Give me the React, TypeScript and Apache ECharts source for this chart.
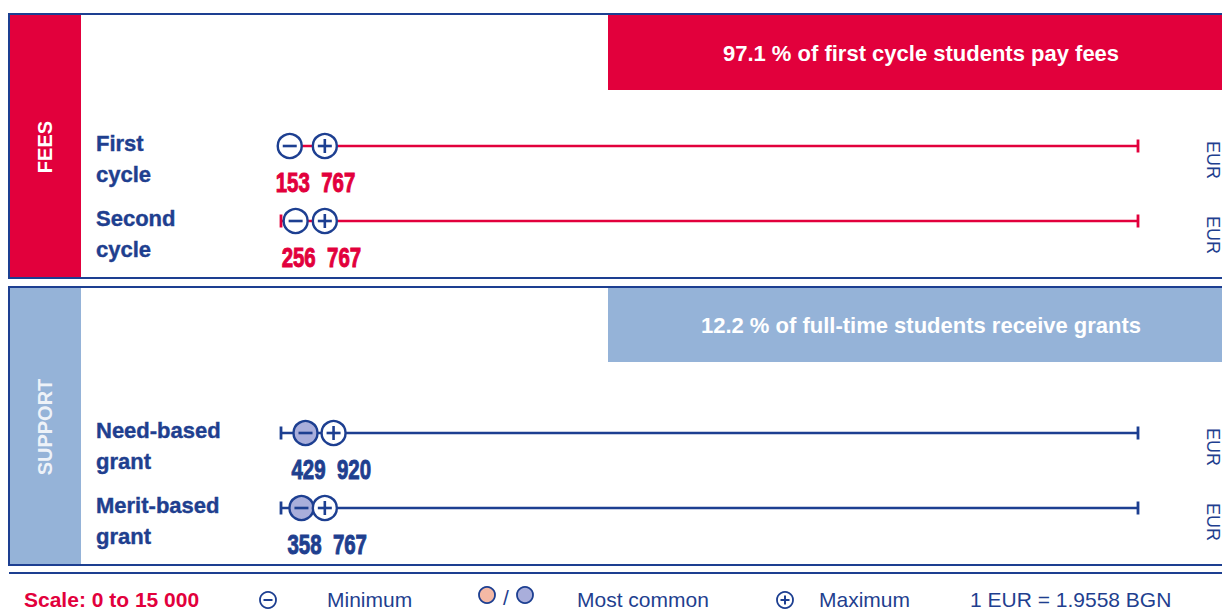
import React, { useEffect, useRef } from "react";
import * as echarts from "echarts";

// ---- data ----
const scaleMin = 0;
const scaleMax = 15000;
const feeCategories = ["First\ncycle", "Second\ncycle"];
const feeMin = [153, 256];
const feeMax = [767, 767];
const feeMostCommon: (number | null)[] = [null, null];
const supportCategories = ["Need-based\ngrant", "Merit-based\ngrant"];
const supportMin = [429, 358];
const supportMax = [920, 767];
const supportMostCommon: (number | null)[] = [429, 358];
const feeHeadline = "97.1 % of first cycle students pay fees";
const supportHeadline = "12.2 % of full-time students receive grants";
const feeTitle = "FEES";
const supportTitle = "SUPPORT";
const currencyUnit = "EUR";
const scaleNote = "Scale: 0 to 15 000";
const legendMin = "Minimum";
const legendCommon = "Most common";
const legendMax = "Maximum";
const exchangeNote = "1 EUR = 1.9558 BGN";

// ---- styles ----
const BLUE = "#1d3f91";
const TEXT_BLUE = "#1f3f8f";
const RED = "#e2003c";
const LIGHT = "#95b3d8";
const LAVENDER = "#a9aedb";
const PINK = "#f5b9a5";
const FONT = '"Liberation Sans", Arial, Helvetica, sans-serif';

function makeRender(categories: string[], lineColor: string, numColor: string) {
  return (params: any, api: any) => {
    const idx = api.value(0);
    const vMin = api.value(1);
    const vMax = api.value(2);
    const vMc = api.value(3);
    const cs = params.coordSys;
    const [x0, y] = api.coord([scaleMin, idx]);
    const [x1] = api.coord([scaleMax, idx]);
    const [xMin] = api.coord([vMin, idx]);
    const [xMax] = api.coord([vMax, idx]);
    const r = 12;
    const s = 7;
    const children: any[] = [
      { type: "line", shape: { x1: x0, y1: y, x2: x1, y2: y }, style: { stroke: lineColor, lineWidth: 2.4 } },
      { type: "line", shape: { x1: x0, y1: y - 6.5, x2: x0, y2: y + 6.5 }, style: { stroke: lineColor, lineWidth: 2.8 } },
      { type: "line", shape: { x1: x1, y1: y - 6.5, x2: x1, y2: y + 6.5 }, style: { stroke: lineColor, lineWidth: 2.8 } },
      {
        type: "circle",
        shape: { cx: xMin, cy: y, r },
        style: { fill: vMc === vMin ? LAVENDER : "#fff", stroke: BLUE, lineWidth: 2.4 },
      },
      { type: "line", shape: { x1: xMin - s, y1: y, x2: xMin + s, y2: y }, style: { stroke: BLUE, lineWidth: 2.6 } },
      {
        type: "circle",
        shape: { cx: xMax, cy: y, r },
        style: { fill: vMc === vMax ? LAVENDER : "#fff", stroke: BLUE, lineWidth: 2.4 },
      },
      { type: "line", shape: { x1: xMax - s, y1: y, x2: xMax + s, y2: y }, style: { stroke: BLUE, lineWidth: 2.6 } },
      { type: "line", shape: { x1: xMax, y1: y - s, x2: xMax, y2: y + s }, style: { stroke: BLUE, lineWidth: 2.6 } },
      {
        type: "text",
        x: cs.x - 185,
        y: y - 18.5,
        style: {
          text: categories[idx],
          fill: TEXT_BLUE,
          stroke: TEXT_BLUE,
          lineWidth: 0.4,
          fontSize: 22,
          fontWeight: "bold",
          fontFamily: FONT,
          lineHeight: 31,
          align: "left",
          verticalAlign: "top",
        },
      },
      {
        type: "text",
        x: xMin - 14,
        y: y + 36,
        scaleX: 0.73,
        style: {
          text: `${vMin}  ${vMax}`,
          fill: numColor,
          stroke: numColor,
          lineWidth: 1,
          fontSize: 28,
          fontWeight: "bold",
          fontFamily: FONT,
          align: "left",
          verticalAlign: "middle",
        },
      },
      {
        type: "text",
        x: cs.x + cs.width + 75,
        y: y + 14,
        rotation: -Math.PI / 2,
        style: {
          text: currencyUnit,
          fill: TEXT_BLUE,
          fontSize: 18,
          fontFamily: FONT,
          align: "center",
          verticalAlign: "middle",
        },
      },
    ];
    return { type: "group", children };
  };
}

function legendCircle(cx: number, cy: number, kind: "min" | "max" | "fill", fill = "#fff") {
  const els: any[] = [
    { type: "circle", shape: { cx, cy, r: 8 }, style: { fill, stroke: BLUE, lineWidth: 1.8 } },
  ];
  if (kind === "min" || kind === "max") {
    els.push({ type: "line", shape: { x1: cx - 4.5, y1: cy, x2: cx + 4.5, y2: cy }, style: { stroke: BLUE, lineWidth: 2 } });
  }
  if (kind === "max") {
    els.push({ type: "line", shape: { x1: cx, y1: cy - 4.5, x2: cx, y2: cy + 4.5 }, style: { stroke: BLUE, lineWidth: 2 } });
  }
  return els;
}

export default function App() {
  const ref = useRef<HTMLDivElement>(null);
  useEffect(() => {
    if (!ref.current) return;
    const chart = echarts.init(ref.current, undefined, { renderer: "svg" });
    const feeData = feeMin.map((m, i) => [i, m, feeMax[i], feeMostCommon[i] ?? NaN]);
    const supportData = supportMin.map((m, i) => [i, m, supportMax[i], supportMostCommon[i] ?? NaN]);
    const txt = (x: number, y: number, text: string, extra: any = {}, rotation = 0) => ({
      type: "text",
      x,
      y,
      rotation,
      style: {
        text,
        fill: TEXT_BLUE,
        fontSize: 21,
        fontFamily: FONT,
        align: "left",
        verticalAlign: "middle",
        ...extra,
      },
    });
    chart.setOption({
      animation: false,
      grid: [
        { left: 281, right: 84, top: 108.5, height: 150 },
        { left: 281, right: 84, top: 395.5, height: 150 },
      ],
      xAxis: [
        { gridIndex: 0, type: "value", min: scaleMin, max: scaleMax, show: false },
        { gridIndex: 1, type: "value", min: scaleMin, max: scaleMax, show: false },
      ],
      yAxis: [
        { gridIndex: 0, type: "category", data: feeCategories, inverse: true, show: false },
        { gridIndex: 1, type: "category", data: supportCategories, inverse: true, show: false },
      ],
      graphic: [
        { type: "rect", z: 0, shape: { x: 9, y: 14, width: 1230, height: 264 }, style: { fill: "#fff", stroke: BLUE, lineWidth: 2 } },
        { type: "rect", z: 1, shape: { x: 10, y: 15, width: 71, height: 262 }, style: { fill: RED } },
        { type: "rect", z: 1, shape: { x: 608, y: 15, width: 620, height: 75 }, style: { fill: RED } },
        { ...txt(921, 53, feeHeadline, { fill: "#fff", fontSize: 22, fontWeight: "bold", align: "center" }), z: 2 },
        { ...txt(45, 147, feeTitle, { fill: "#fff", fontSize: 20, fontWeight: "bold", align: "center" }, Math.PI / 2), z: 2 },
        { type: "rect", z: 0, shape: { x: 9, y: 287, width: 1230, height: 278 }, style: { fill: "#fff", stroke: BLUE, lineWidth: 2 } },
        { type: "rect", z: 1, shape: { x: 10, y: 288, width: 71, height: 276 }, style: { fill: LIGHT } },
        { type: "rect", z: 1, shape: { x: 608, y: 288, width: 620, height: 74 }, style: { fill: LIGHT } },
        { ...txt(921, 325, supportHeadline, { fill: "#fff", fontSize: 22, fontWeight: "bold", align: "center" }), z: 2 },
        { ...txt(45, 427, supportTitle, { fill: "#eef2f8", fontSize: 20, fontWeight: "bold", align: "center" }, Math.PI / 2), z: 2 },
        { type: "line", z: 1, shape: { x1: 9, y1: 573, x2: 1222, y2: 573 }, style: { stroke: BLUE, lineWidth: 2 } },
        txt(24, 599, scaleNote, { fill: RED, fontWeight: "bold", fontSize: 21 }),
        ...legendCircle(268, 600, "min"),
        txt(327, 599, legendMin),
        ...legendCircle(487, 595, "fill", PINK),
        txt(506, 597, "/", { align: "center" }),
        ...legendCircle(525, 595, "fill", LAVENDER),
        txt(577, 599, legendCommon),
        ...legendCircle(785, 600, "max"),
        txt(819, 599, legendMax),
        txt(970, 599, exchangeNote),
      ],
      series: [
        {
          type: "custom",
          xAxisIndex: 0,
          yAxisIndex: 0,
          renderItem: makeRender(feeCategories, RED, RED),
          encode: { x: [1, 2], y: 0 },
          data: feeData,
          z: 5,
        },
        {
          type: "custom",
          xAxisIndex: 1,
          yAxisIndex: 1,
          renderItem: makeRender(supportCategories, BLUE, TEXT_BLUE),
          encode: { x: [1, 2], y: 0 },
          data: supportData,
          z: 5,
        },
      ],
    });
    return () => chart.dispose();
  }, []);
  return (
    <div
      ref={ref}
      style={{ position: "absolute", left: 0, top: 0, width: 1222, height: 612, background: "#fff" }}
    />
  );
}
